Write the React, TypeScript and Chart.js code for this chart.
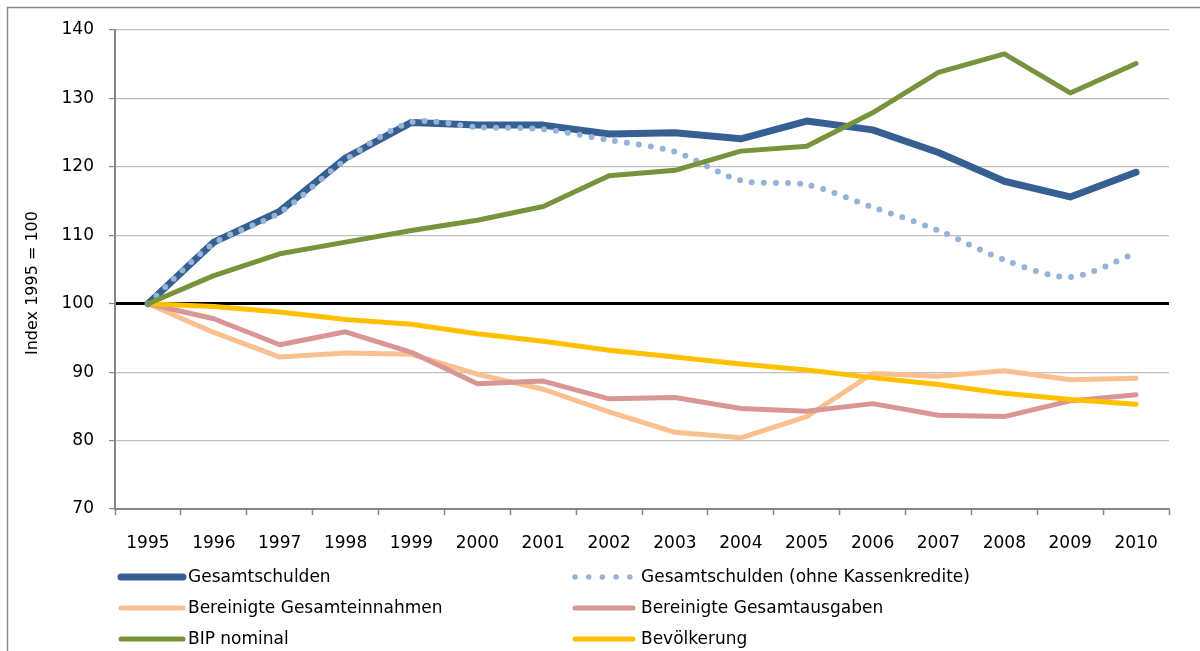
import React, { useEffect, useRef } from "react";
import { Chart, registerables } from "chart.js";

Chart.register(...registerables);

const years = ["1995", "1996", "1997", "1998", "1999", "2000", "2001", "2002", "2003", "2004", "2005", "2006", "2007", "2008", "2009", "2010"];

const gesamtschulden = [100, 109.0, 113.5, 121.3, 126.5, 126.1, 126.1, 124.8, 125.0, 124.1, 126.7, 125.4, 122.1, 117.9, 115.6, 119.2];
const gesamtschuldenOhne = [100, 108.8, 113.3, 121.0, 126.5, 125.8, 125.5, 123.9, 122.2, 118.0, 117.4, 114.1, 110.7, 106.4, 103.9, 107.4];
const einnahmen = [100, 95.8, 92.2, 92.8, 92.6, 89.7, 87.5, 84.2, 81.2, 80.4, 83.5, 89.8, 89.4, 90.2, 88.9, 89.1];
const ausgaben = [100, 97.8, 94.0, 95.9, 92.9, 88.3, 88.7, 86.1, 86.3, 84.7, 84.3, 85.4, 83.7, 83.5, 85.8, 86.7];
const bip = [100, 104.1, 107.3, 109.0, 110.7, 112.2, 114.2, 118.7, 119.5, 122.3, 123.0, 127.9, 133.8, 136.5, 130.8, 135.1];
const bevoelkerung = [100, 99.6, 98.8, 97.7, 97.0, 95.6, 94.5, 93.2, 92.2, 91.2, 90.3, 89.2, 88.2, 86.9, 86.0, 85.3];

const yTicks = [70, 80, 90, 100, 110, 120, 130, 140];
const yTitle = "Index 1995 = 100";

const FONT = "'DejaVu Sans', sans-serif";
const AXIS = "#868686";

const framePlugin = {
  id: "frame",
  beforeDraw(chart: any) {
    const ctx = chart.ctx;
    ctx.save();
    ctx.fillStyle = "#ffffff";
    ctx.fillRect(0, 0, chart.width, chart.height);
    ctx.strokeStyle = "#8c8c8c";
    ctx.lineWidth = 1.5;
    ctx.beginPath();
    ctx.moveTo(7.5, chart.height);
    ctx.lineTo(7.5, 7.5);
    ctx.lineTo(chart.width, 7.5);
    ctx.stroke();
    ctx.restore();
  },
};

const titlePlugin = {
  id: "ytitle",
  afterDraw(chart: any) {
    const ctx = chart.ctx;
    ctx.save();
    ctx.translate(33, 283);
    ctx.rotate(-Math.PI / 2);
    ctx.font = `16px ${FONT}`;
    ctx.fillStyle = "#000";
    ctx.textAlign = "center";
    ctx.textBaseline = "middle";
    ctx.fillText(yTitle, 0, 0);
    ctx.restore();
  },
};

const legendPlugin = {
  id: "customLegend",
  afterDraw(chart: any) {
    const ctx = chart.ctx;
    const cols = [
      { x0: 121, x1: 183, tx: 188 },
      { x0: 575, x1: 633, tx: 641 },
    ];
    const rows = [577, 608, 639];
    chart.data.datasets.forEach((ds: any, i: number) => {
      const c = cols[i % 2];
      const y = rows[Math.floor(i / 2)];
      ctx.save();
      ctx.strokeStyle = ds.borderColor;
      ctx.lineCap = "round";
      if (ds.borderDash && ds.borderDash.length) {
        ctx.lineWidth = 5.5;
        ctx.setLineDash([0, 13.7]);
      } else {
        ctx.lineWidth = ds.borderWidth;
      }
      ctx.beginPath();
      ctx.moveTo(c.x0, y);
      ctx.lineTo(c.x1, y);
      ctx.stroke();
      ctx.setLineDash([]);
      ctx.font = `17px ${FONT}`;
      ctx.fillStyle = "#000";
      ctx.textAlign = "left";
      ctx.textBaseline = "middle";
      ctx.fillText(ds.label, c.tx, y + 1);
      ctx.restore();
    });
  },
};

export default function App() {
  const ref = useRef<HTMLCanvasElement | null>(null);
  useEffect(() => {
    if (!ref.current) return;
    const common = { pointRadius: 0, pointHoverRadius: 0, fill: false, borderJoinStyle: "round", borderCapStyle: "round" };
    const chart = new Chart(ref.current, {
      type: "line",
      data: {
        labels: years,
        datasets: [
          { ...common, label: "Gesamtschulden", data: gesamtschulden, borderColor: "#376092", borderWidth: 7, tension: 0, order: 2 },
          { ...common, label: "Gesamtschulden (ohne Kassenkredite)", data: gesamtschuldenOhne, borderColor: "#95B3D7", borderWidth: 6, borderDash: [0, 12], tension: 0.3, order: 1 },
          { ...common, label: "Bereinigte Gesamteinnahmen", data: einnahmen, borderColor: "#FAC090", borderWidth: 5, tension: 0, order: 5 },
          { ...common, label: "Bereinigte Gesamtausgaben", data: ausgaben, borderColor: "#D99694", borderWidth: 5, tension: 0, order: 4 },
          { ...common, label: "BIP nominal", data: bip, borderColor: "#77933C", borderWidth: 5, tension: 0, order: 0 },
          { ...common, label: "Bevölkerung", data: bevoelkerung, borderColor: "#FFC000", borderWidth: 5, tension: 0, order: 3 },
        ] as any,
      },
      options: {
        responsive: false,
        animation: false,
        events: [],
        layout: { padding: { top: 30, right: 31, left: 0, bottom: 0 } },
        plugins: { legend: { display: false }, tooltip: { enabled: false }, title: { display: false } },
        scales: {
          x: {
            type: "category",
            offset: true,
            afterFit(scale: any) {
              scale.height = 142;
            },
            grid: { offset: true, drawOnChartArea: false, drawTicks: true, tickLength: 6, tickColor: AXIS, tickWidth: 1.5 },
            border: { color: AXIS, width: 2 },
            ticks: { color: "#000", font: { family: FONT, size: 17 }, padding: 18, maxRotation: 0, autoSkip: false },
          },
          y: {
            min: yTicks[0],
            max: yTicks[yTicks.length - 1],
            afterFit(scale: any) {
              scale.width = 115;
            },
            afterBuildTicks(scale: any) {
              scale.ticks = yTicks.map((v) => ({ value: v }));
            },
            grid: {
              color: (c: any) => (c.tick && c.tick.value === 100 ? "#000000" : "#BFBFBF"),
              lineWidth: (c: any) => (c.tick && c.tick.value === 100 ? 3 : 1.2),
              tickColor: AXIS,
              tickLength: 6,
              tickWidth: 1.2,
            },
            border: { color: AXIS, width: 2 },
            ticks: { color: "#000", font: { family: FONT, size: 17 }, padding: 15 },
          },
        },
      } as any,
      plugins: [framePlugin, titlePlugin, legendPlugin],
    });
    return () => chart.destroy();
  }, []);
  return (
    <div style={{ position: "fixed", left: 0, top: 0, width: 1200, height: 651, background: "#fff" }}>
      <canvas ref={ref} width={1200} height={651} style={{ display: "block" }} />
    </div>
  );
}
